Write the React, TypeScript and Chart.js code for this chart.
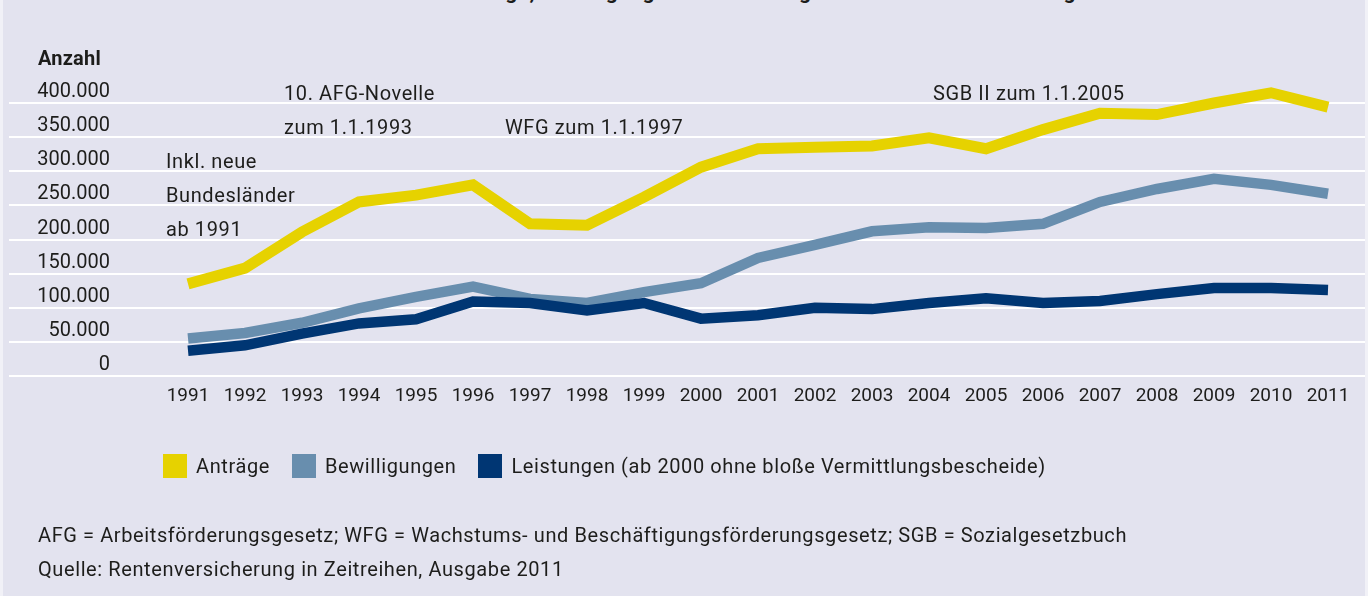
import React, { useEffect, useRef } from "react";
import { Chart, registerables } from "chart.js";

Chart.register(...registerables);

const years = ["1991","1992","1993","1994","1995","1996","1997","1998","1999","2000","2001","2002","2003","2004","2005","2006","2007","2008","2009","2010","2011"];
const antraege = [135000,158000,211000,255000,265000,280000,223000,221000,262000,306000,333000,335000,337000,349000,333000,361000,385000,383000,400000,415000,394000];
const bewilligungen = [55000,63000,78000,99000,116000,131000,113000,107000,123000,136000,173000,192000,212000,218000,217000,223000,255000,274000,289000,280000,267000];
const leistungen = [37000,45000,62000,77000,83000,109000,107000,96000,107000,84000,89000,100000,98000,107000,114000,107000,110000,120000,129000,129000,126000];
const seriesNames = ["Anträge", "Bewilligungen", "Leistungen (ab 2000 ohne bloße Vermittlungsbescheide)"];
const seriesColors = ["#E6D200", "#688EAE", "#003673"];
const yMax = 400000;
const yStep = 50000;

const FONT = "Roboto, 'DejaVu Sans', sans-serif";
const TEXT = "#1d1d1b";
const BG = "#E3E3EF";

function fmt(v: number): string {
  if (v === 0) return "0";
  const s = String(Math.round(v));
  return s.replace(/\B(?=(\d{3})+(?!\d))/g, ".");
}

const gridPlugin = {
  id: "fullGrid",
  beforeDatasetsDraw(chart: any) {
    const { ctx } = chart;
    const y = chart.scales.y;
    ctx.save();
    ctx.strokeStyle = "#FFFFFF";
    ctx.lineWidth = 2;
    y.ticks.forEach((t: any) => {
      const py = Math.round(y.getPixelForValue(t.value));
      ctx.beginPath();
      ctx.moveTo(9, py);
      ctx.lineTo(1365, py);
      ctx.stroke();
    });
    ctx.restore();
  },
};

export default function App() {
  const ref = useRef<HTMLCanvasElement>(null);
  useEffect(() => {
    document.body.style.margin = "0";
    const c = ref.current!;
    const chart = new Chart(c, {
      type: "line",
      data: {
        labels: years,
        datasets: [
          { label: seriesNames[0], data: antraege, borderColor: seriesColors[0], backgroundColor: seriesColors[0], borderWidth: 11, order: 2 },
          { label: seriesNames[1], data: bewilligungen, borderColor: seriesColors[1], backgroundColor: seriesColors[1], borderWidth: 10.5, order: 1 },
          { label: seriesNames[2], data: leistungen, borderColor: seriesColors[2], backgroundColor: seriesColors[2], borderWidth: 10.5, order: 0 },
        ].map((d) => ({
          ...d,
          pointRadius: 0,
          tension: 0,
          fill: false,
          clip: false as any,
          borderJoinStyle: "miter" as const,
          borderCapStyle: "butt" as const,
        })),
      },
      options: {
        responsive: false,
        animation: false,
        layout: { padding: { left: 0, top: 103, right: 40, bottom: 180 } },
        plugins: { legend: { display: false }, tooltip: { enabled: false }, title: { display: false } },
        scales: {
          x: {
            offset: false,
            grid: { display: false, drawTicks: false },
            border: { display: false },
            ticks: { color: TEXT, font: { family: FONT, size: 19 }, padding: 9, maxRotation: 0, autoSkip: false },
            afterFit: (s: any) => { s.height = 40; },
          },
          y: {
            min: 0,
            max: yMax,
            grid: { display: false, drawTicks: false },
            border: { display: false },
            ticks: {
              stepSize: yStep,
              color: TEXT,
              font: { family: FONT, size: 20 },
              padding: 78,
              labelOffset: -11,
              callback: (v: any) => fmt(Number(v)),
            },
            afterFit: (s: any) => { s.width = 188; },
          },
        },
      },
      plugins: [gridPlugin],
    });
    return () => chart.destroy();
  }, []);

  const txt: React.CSSProperties = { position: "absolute", fontFamily: FONT, fontSize: 20, letterSpacing: "0.6px", color: TEXT, lineHeight: "24px", whiteSpace: "nowrap" };
  const at = (left: number, cy: number, extra: React.CSSProperties = {}): React.CSSProperties => ({ ...txt, left, top: cy - 12, ...extra });

  return (
    <div style={{ position: "relative", width: 1368, height: 596, background: "#F1F1F7", overflow: "hidden" }}>
      <div style={{ position: "absolute", left: 3, top: 0, width: 1362, height: 596, background: BG }} />
      <div style={{ ...txt, left: 452, top: -20, fontWeight: 700, fontSize: 21, letterSpacing: "0.4px" }}>Anträge, Bewilligungen und Leistungen der Rentenversicherung</div>
      <canvas ref={ref} width={1368} height={596} style={{ position: "absolute", left: 0, top: 0 }} />
      <div style={at(38, 58, { fontWeight: 700, letterSpacing: "0.2px" })}>Anzahl</div>
      <div style={at(284, 93)}>10. AFG-Novelle</div>
      <div style={at(284, 127)}>zum 1.1.1993</div>
      <div style={at(505, 127)}>WFG zum 1.1.1997</div>
      <div style={at(933, 93)}>SGB II zum 1.1.2005</div>
      <div style={at(166, 161)}>Inkl. neue</div>
      <div style={at(166, 195)}>Bundesländer</div>
      <div style={at(166, 229)}>ab 1991</div>
      <div style={{ position: "absolute", left: 163, top: 454, display: "flex", alignItems: "center", fontFamily: FONT, fontSize: 20, letterSpacing: "0.6px", color: TEXT, whiteSpace: "nowrap" }}>
        {seriesNames.map((n, i) => (
          <div key={n} style={{ display: "flex", alignItems: "center", marginRight: 22 }}>
            <div style={{ width: 24, height: 24, background: seriesColors[i], marginRight: 9 }} />
            <span style={{ lineHeight: "24px" }}>{n}</span>
          </div>
        ))}
      </div>
      <div style={at(38, 535)}>AFG = Arbeitsförderungsgesetz; WFG = Wachstums- und Beschäftigungsförderungsgesetz; SGB = Sozialgesetzbuch</div>
      <div style={at(38, 569)}>Quelle: Rentenversicherung in Zeitreihen, Ausgabe 2011</div>
    </div>
  );
}
